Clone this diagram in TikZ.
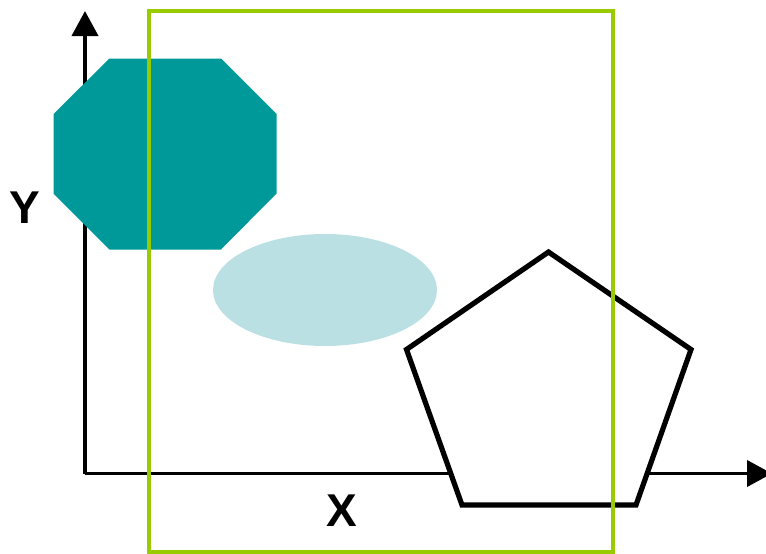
\documentclass[tikz,border=0pt]{standalone}
\usepackage{fontspec}
\setmainfont{Liberation Sans}
\usepackage{xcolor}
\usetikzlibrary{arrows.meta}
\definecolor{octteal}{RGB}{0,153,153}
\definecolor{ellblue}{RGB}{187,224,227}
\definecolor{framegreen}{RGB}{153,204,0}

\begin{document}
\begin{tikzpicture}[
    x=1pt, y=-1pt,
    axis/.style={draw=black, line width=3.8pt, -{Triangle[length=25pt, width=26pt]}},
    axislabel/.style={font=\fontsize{46}{46}\selectfont\bfseries, inner sep=0pt},
    octagon/.style={fill=octteal, draw=none},
    blob/.style={fill=ellblue, draw=none},
    pentagon/.style={fill=white, draw=black, line width=5.2pt, line join=miter},
    frame/.style={draw=framegreen, line width=4pt}
]
    \useasboundingbox (0,0) rectangle (766,554);
    \clip (0,0) rectangle (766,554);

    % Axes
    \coordinate (origin) at (85,473.5);
    \coordinate (ytip) at (85,11);
    \coordinate (xtip) at (772,473.5);
    \draw [axis] (origin) -- (ytip);
    \draw [axis] (origin) -- (xtip);
    \node [axislabel] (ylab) at (24.5,208) {Y};
    \node [axislabel] (xlab) at (341.5,510.5) {X};

    % Octagon
    \path [octagon] (109.5,58.5) -- (221,58.5) -- (276.5,114) -- (276.5,193.5)
        -- (221,249.5) -- (109.5,249.5) -- (53.5,193.5) -- (53.5,114) -- cycle;

    % Ellipse
    \path [blob] (325,290) ellipse [x radius=112, y radius=56];

    % Pentagon
    \draw [pentagon] (548.5,252) -- (691,349.5) -- (636,505) -- (462,505)
        -- (406.5,349.5) -- cycle;

    % Green frame
    \draw [frame] (149,10.5) rectangle (613,552);

\end{tikzpicture}
\end{document}
